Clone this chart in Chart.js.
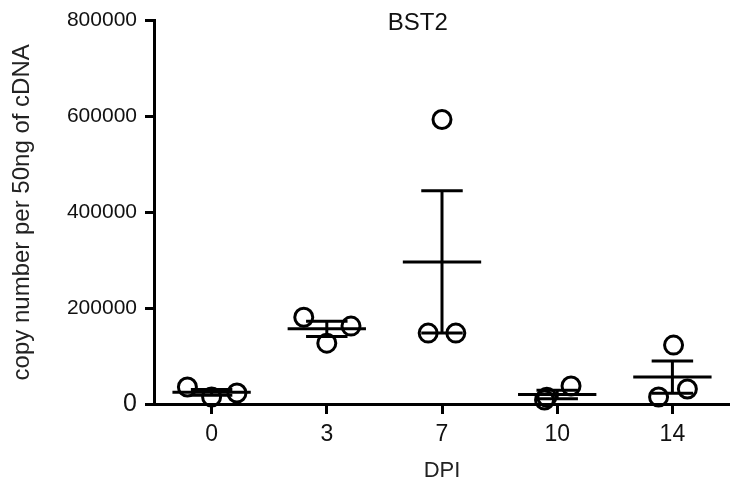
<!DOCTYPE html>
<html>
<head>
<meta charset="utf-8">
<script src="https://cdn.jsdelivr.net/npm/chart.js@4.4.1/dist/chart.umd.min.js"></script>
<style>
  html, body { margin: 0; padding: 0; background: #fff; }
  #wrap { width: 730px; height: 494px; position: relative; }
</style>
</head>
<body>
<div id="wrap"><canvas id="bstChart"></canvas></div>
<script>
// categories (days post infection) and replicate values
const chartTitle = "BST2";
const categories = ["0", "3", "7", "10", "14"];
const day0 = [35400, 14600, 22900];
const day3 = [181000, 127000, 162500];
const day7 = [593700, 147900, 147900];
const day10 = [8300, 37500, 14000];
const day14 = [122900, 14600, 31250];
const yTickValues = [0, 200000, 400000, 600000, 800000];

const groups = [day0, day3, day7, day10, day14];

// horizontal scatter of the dots inside each column (category units)
const spread = [
  [-0.21, 0, 0.22],
  [-0.2, 0, 0.21],
  [0, -0.12, 0.12],
  [-0.11, 0.12, -0.09],
  [0.01, -0.12, 0.13],
];

const FONT = '"Liberation Sans", Arial, Helvetica, sans-serif';

function mean(a) {
  return a.reduce((s, v) => s + v, 0) / a.length;
}
function sem(a) {
  const m = mean(a);
  const v = a.reduce((s, x) => s + (x - m) * (x - m), 0) / (a.length - 1);
  return Math.sqrt(v) / Math.sqrt(a.length);
}

// build the scatter points from the groups
const points = [];
groups.forEach((vals, i) => {
  vals.forEach((v, j) => points.push({ x: i + spread[i][j], y: v }));
});

// mean line + SEM whiskers, drawn on top of the dots
const meanSemPlugin = {
  id: "meanSem",
  afterDatasetsDraw(chart) {
    const xs = chart.scales.x;
    const ys = chart.scales.y;
    const ctx = chart.ctx;
    ctx.save();
    ctx.strokeStyle = "#000";
    ctx.lineWidth = 3;
    const hline = (i, half, v) => {
      ctx.beginPath();
      ctx.moveTo(xs.getPixelForValue(i - half), ys.getPixelForValue(v));
      ctx.lineTo(xs.getPixelForValue(i + half), ys.getPixelForValue(v));
      ctx.stroke();
    };
    groups.forEach((vals, i) => {
      const m = mean(vals);
      const s = sem(vals);
      hline(i, 0.34, m);
      hline(i, 0.18, m + s);
      hline(i, 0.18, m - s);
      ctx.beginPath();
      ctx.moveTo(xs.getPixelForValue(i), ys.getPixelForValue(m + s));
      ctx.lineTo(xs.getPixelForValue(i), ys.getPixelForValue(m - s));
      ctx.stroke();
    });
    ctx.restore();
  },
};

// panel title sits inside the plot, a bit left of centre
const panelTitlePlugin = {
  id: "panelTitle",
  afterDraw(chart) {
    const { ctx, chartArea } = chart;
    ctx.save();
    ctx.font = "24px " + FONT;
    ctx.fillStyle = "#111";
    ctx.textAlign = "center";
    ctx.textBaseline = "middle";
    ctx.fillText(chartTitle, chartArea.left + 0.458 * (chartArea.right - chartArea.left), chartArea.top + 3);
    ctx.restore();
  },
};

const ctx = document.getElementById("bstChart").getContext("2d");
const bstChart = new Chart(ctx, {
  type: "scatter",
  data: {
    datasets: [
      {
        data: points,
        pointRadius: 9,
        pointHoverRadius: 9,
        pointBorderWidth: 3,
        pointBorderColor: "#000",
        pointBackgroundColor: "rgba(255,255,255,0)",
        clip: false,
      },
    ],
  },
  options: {
    responsive: true,
    maintainAspectRatio: false,
    animation: false,
    layout: { autoPadding: false, padding: { top: 20, right: 0, bottom: 0, left: 0 } },
    plugins: {
      legend: { display: false },
      tooltip: { enabled: false },
    },
    scales: {
      x: {
        type: "linear",
        min: -0.5,
        max: 4.5,
        afterBuildTicks: (scale) => {
          scale.ticks = categories.map((c, i) => ({ value: i }));
        },
        afterFit: (scale) => {
          scale.height = 90;
          scale.paddingLeft = 0;
          scale.paddingRight = 0;
        },
        ticks: {
          callback: (v) => categories[v],
          font: { family: FONT, size: 23 },
          color: "#111",
          padding: 7,
          maxRotation: 0,
        },
        grid: {
          drawOnChartArea: false,
          drawTicks: true,
          tickLength: 10,
          tickWidth: 3,
          tickColor: "#000",
        },
        border: { display: true, width: 3, color: "#000" },
        title: {
          display: true,
          text: "DPI",
          font: { family: FONT, size: 22 },
          color: "#222",
          padding: { top: 0, bottom: 10 },
        },
      },
      y: {
        min: 0,
        max: 800000,
        afterBuildTicks: (scale) => {
          scale.ticks = yTickValues.map((v) => ({ value: v }));
        },
        afterFit: (scale) => {
          scale.width = 154;
        },
        ticks: {
          font: (c) => ({ family: FONT, size: c.tick && c.tick.value === 0 ? 25 : 21 }),
          color: "#111",
          padding: 8,
          callback: (v) => String(v),
        },
        grid: {
          drawOnChartArea: false,
          drawTicks: true,
          tickLength: 9,
          tickWidth: 3,
          tickColor: "#000",
        },
        border: { display: true, width: 3, color: "#000" },
        title: {
          display: true,
          text: "copy number per 50ng of cDNA",
          font: { family: FONT, size: 24 },
          color: "#222",
          padding: { top: 8, bottom: 0 },
        },
      },
    },
  },
  plugins: [meanSemPlugin, panelTitlePlugin],
});
</script>
</body>
</html>
